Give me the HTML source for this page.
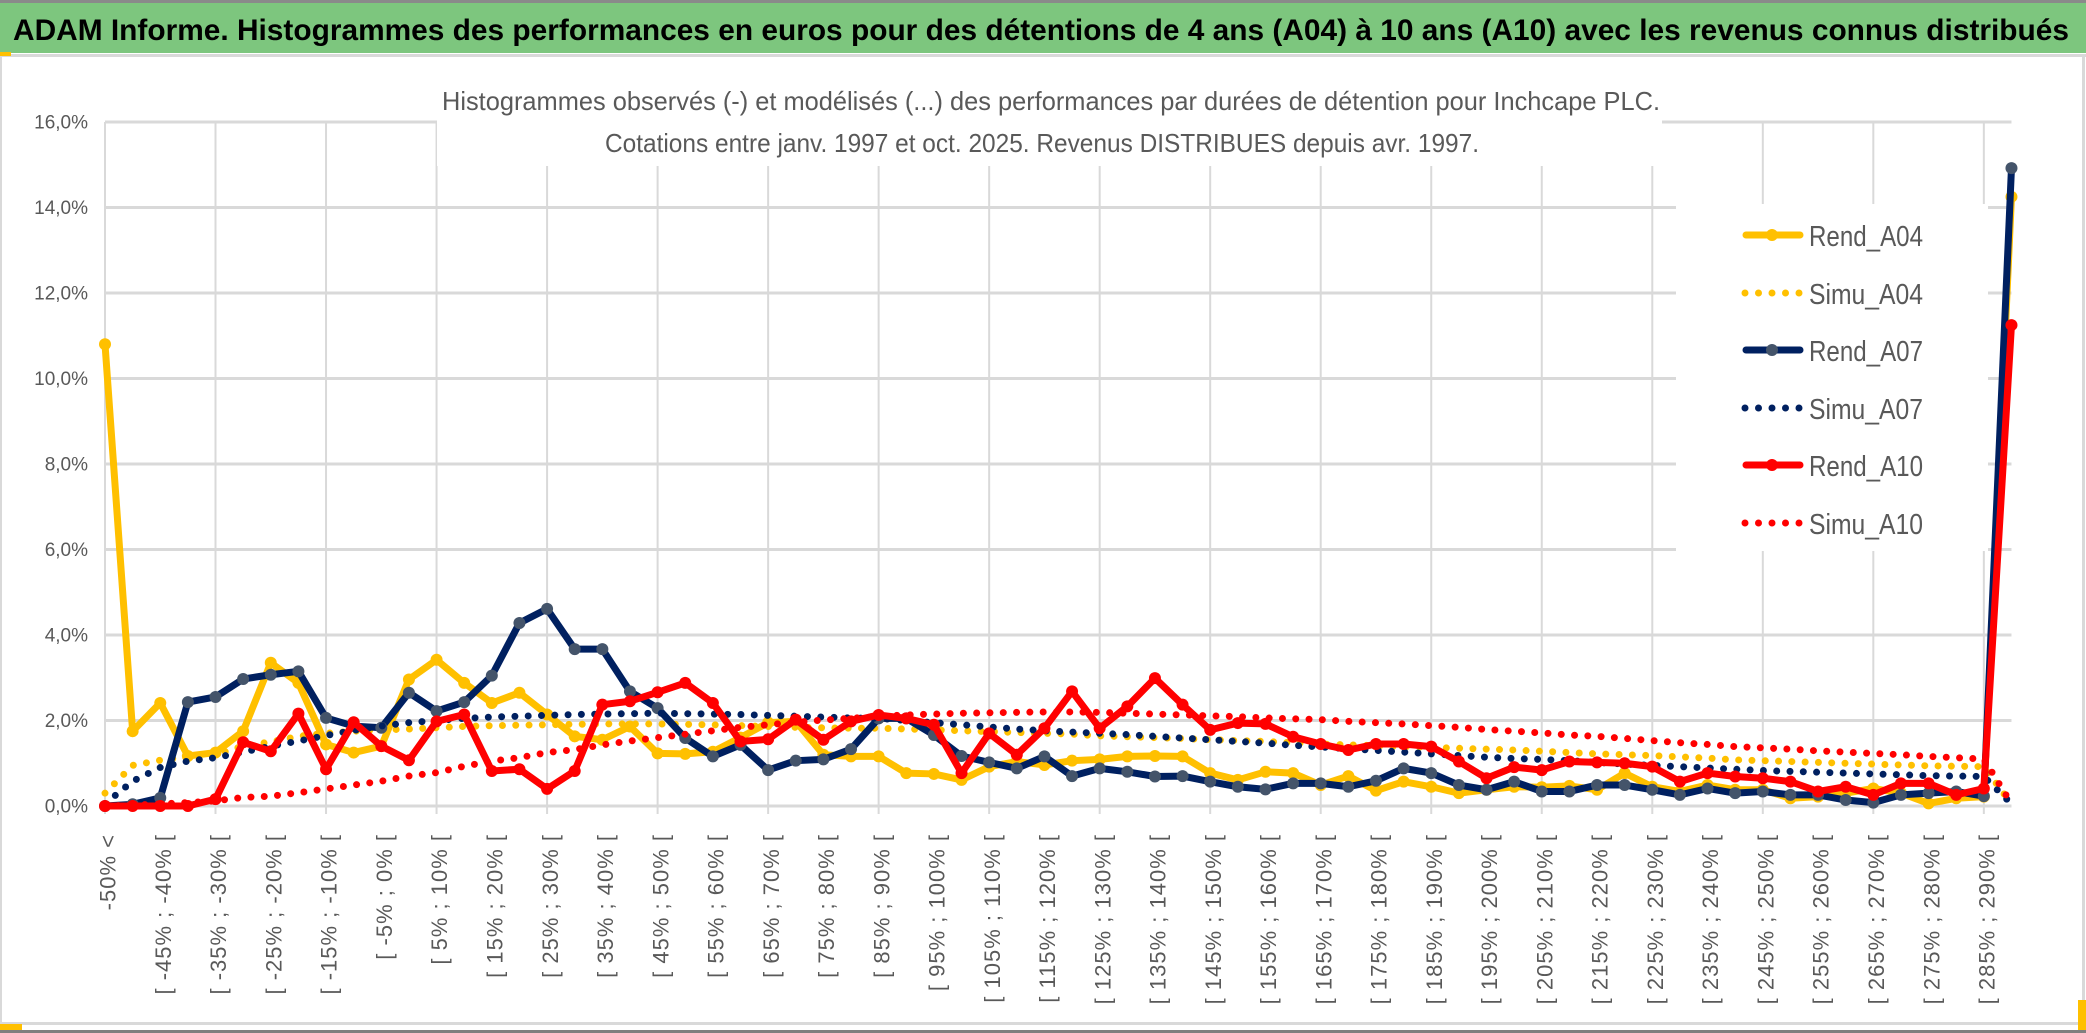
<!DOCTYPE html>
<html><head><meta charset="utf-8"><style>
html,body{margin:0;padding:0;background:#fff;}
svg{display:block;font-family:"Liberation Sans",sans-serif;}
</style></head><body>
<svg id="chart" width="2086" height="1033" viewBox="0 0 2086 1033" xmlns="http://www.w3.org/2000/svg">
<rect x="0" y="0" width="2086" height="1033" fill="#fff"/>
<rect x="0" y="0" width="2086" height="3" fill="#8a8a8a"/>
<rect x="0" y="3" width="2086" height="50" fill="#7dc67e"/>
<text x="13" y="40" font-size="30" font-weight="bold" fill="#000" textLength="2056" lengthAdjust="spacingAndGlyphs">ADAM Informe. Histogrammes des performances en euros pour des détentions de 4 ans (A04) à 10 ans (A10) avec les revenus connus distribués</text>
<rect x="0" y="54" width="2086" height="3" fill="#d9d9d9"/>
<rect x="0" y="52" width="11" height="4" fill="#ffc000"/>
<rect x="0" y="57" width="2" height="970" fill="#d9d9d9"/>
<rect x="2082" y="57" width="3" height="970" fill="#d9d9d9"/>
<rect x="0" y="1022" width="2086" height="3" fill="#d9d9d9"/>
<rect x="0" y="1030" width="2086" height="3" fill="#7f7f7f"/>
<rect x="0" y="1024" width="22" height="6" fill="#ffc000"/>
<rect x="2078" y="1000" width="8" height="30" fill="#ffc000"/>
<g id="grid"></g>
<rect x="437" y="118" width="1225" height="48" fill="#fff"/>
<text x="1051" y="110" font-size="26" fill="#595959" text-anchor="middle" textLength="1218" lengthAdjust="spacingAndGlyphs">Histogrammes observés (-) et modélisés (...) des performances par durées de détention pour Inchcape PLC.</text>
<text x="1042" y="152" font-size="26" fill="#595959" text-anchor="middle" textLength="874" lengthAdjust="spacingAndGlyphs">Cotations entre janv. 1997 et oct. 2025. Revenus DISTRIBUES depuis avr. 1997.</text>
<rect x="1676" y="204" width="312" height="347" fill="#fff"/>
<g id="yaxis"></g>
<g id="xaxis"></g>
<g id="series"></g>
<g id="legend"></g>
</svg>
<script>
const categories = ["-50% <","[ -50% ; -45% [","[ -45% ; -40% [","[ -40% ; -35% [","[ -35% ; -30% [","[ -30% ; -25% [","[ -25% ; -20% [","[ -20% ; -15% [","[ -15% ; -10% [","[ -10% ; -5% [","[ -5% ; 0% [","[ 0% ; 5% [","[ 5% ; 10% [","[ 10% ; 15% [","[ 15% ; 20% [","[ 20% ; 25% [","[ 25% ; 30% [","[ 30% ; 35% [","[ 35% ; 40% [","[ 40% ; 45% [","[ 45% ; 50% [","[ 50% ; 55% [","[ 55% ; 60% [","[ 60% ; 65% [","[ 65% ; 70% [","[ 70% ; 75% [","[ 75% ; 80% [","[ 80% ; 85% [","[ 85% ; 90% [","[ 90% ; 95% [","[ 95% ; 100% [","[ 100% ; 105% [","[ 105% ; 110% [","[ 110% ; 115% [","[ 115% ; 120% [","[ 120% ; 125% [","[ 125% ; 130% [","[ 130% ; 135% [","[ 135% ; 140% [","[ 140% ; 145% [","[ 145% ; 150% [","[ 150% ; 155% [","[ 155% ; 160% [","[ 160% ; 165% [","[ 165% ; 170% [","[ 170% ; 175% [","[ 175% ; 180% [","[ 180% ; 185% [","[ 185% ; 190% [","[ 190% ; 195% [","[ 195% ; 200% [","[ 200% ; 205% [","[ 205% ; 210% [","[ 210% ; 215% [","[ 215% ; 220% [","[ 220% ; 225% [","[ 225% ; 230% [","[ 230% ; 235% [","[ 235% ; 240% [","[ 240% ; 245% [","[ 245% ; 250% [","[ 250% ; 255% [","[ 255% ; 260% [","[ 260% ; 265% [","[ 265% ; 270% [","[ 270% ; 275% [","[ 275% ; 280% [","[ 280% ; 285% [","[ 285% ; 290% [","[ 290% ; 295% ["];
const yTicks = [0,2,4,6,8,10,12,14,16];
const yTickLabels = ["0,0%","2,0%","4,0%","6,0%","8,0%","10,0%","12,0%","14,0%","16,0%"];
const rendA04 = [10.8,1.75,2.41,1.17,1.25,1.75,3.35,2.88,1.44,1.25,1.4,2.96,3.42,2.88,2.41,2.65,2.14,1.63,1.55,1.86,1.23,1.22,1.27,1.6,1.95,1.98,1.2,1.16,1.16,0.77,0.75,0.61,0.92,1.04,0.96,1.06,1.09,1.16,1.17,1.16,0.77,0.61,0.8,0.77,0.49,0.7,0.36,0.57,0.45,0.3,0.38,0.45,0.44,0.47,0.38,0.77,0.45,0.34,0.49,0.38,0.38,0.18,0.22,0.3,0.41,0.3,0.06,0.18,0.22,14.25];
const simuA04 = [0.3,0.95,1.07,1.15,1.2,1.4,1.5,1.63,1.7,1.75,1.78,1.8,1.83,1.86,1.88,1.89,1.9,1.91,1.92,1.92,1.92,1.91,1.9,1.88,1.86,1.84,1.83,1.82,1.82,1.8,1.78,1.76,1.74,1.72,1.7,1.68,1.64,1.62,1.6,1.58,1.55,1.53,1.51,1.48,1.45,1.43,1.41,1.39,1.37,1.35,1.33,1.31,1.28,1.25,1.22,1.2,1.18,1.15,1.12,1.08,1.06,1.04,1.02,1.0,0.98,0.96,0.94,0.93,0.92,0.05];
const rendA07 = [0,0.04,0.19,2.43,2.55,2.97,3.07,3.15,2.06,1.87,1.83,2.65,2.22,2.43,3.05,4.28,4.61,3.67,3.67,2.68,2.29,1.59,1.16,1.43,0.84,1.06,1.09,1.33,2.05,2.05,1.66,1.17,1.02,0.88,1.16,0.7,0.88,0.8,0.69,0.7,0.57,0.45,0.39,0.53,0.53,0.45,0.59,0.88,0.77,0.49,0.38,0.57,0.34,0.34,0.49,0.49,0.38,0.26,0.41,0.3,0.34,0.26,0.26,0.14,0.08,0.26,0.3,0.34,0.23,14.92];
const simuA07 = [0.05,0.58,0.9,1.05,1.13,1.26,1.4,1.52,1.65,1.77,1.87,1.95,2.0,2.05,2.08,2.1,2.12,2.14,2.15,2.16,2.17,2.16,2.15,2.14,2.12,2.1,2.08,2.06,2.05,2.0,1.95,1.9,1.85,1.8,1.76,1.73,1.7,1.67,1.63,1.59,1.55,1.51,1.47,1.42,1.38,1.34,1.3,1.26,1.22,1.18,1.14,1.11,1.09,1.06,1.02,0.98,0.95,0.92,0.89,0.86,0.83,0.81,0.79,0.77,0.75,0.73,0.71,0.7,0.69,0.05];
const rendA10 = [0,0,0,0,0.16,1.49,1.28,2.16,0.86,1.96,1.4,1.07,1.98,2.14,0.82,0.86,0.4,0.82,2.37,2.45,2.66,2.88,2.41,1.51,1.56,2.02,1.55,1.98,2.13,2.05,1.9,0.77,1.7,1.2,1.82,2.68,1.82,2.33,2.99,2.37,1.78,1.94,1.92,1.62,1.45,1.31,1.45,1.45,1.39,1.04,0.65,0.91,0.84,1.04,1.02,1.0,0.92,0.57,0.77,0.69,0.65,0.57,0.34,0.45,0.26,0.53,0.53,0.26,0.41,11.25];
const simuA10 = [0.0,0.02,0.05,0.08,0.12,0.2,0.23,0.31,0.4,0.49,0.58,0.7,0.78,0.93,1.05,1.13,1.25,1.32,1.43,1.52,1.6,1.68,1.76,1.84,1.9,1.96,2.01,2.05,2.1,2.13,2.15,2.17,2.18,2.19,2.2,2.2,2.19,2.17,2.15,2.13,2.11,2.09,2.06,2.04,2.02,1.98,1.95,1.92,1.88,1.84,1.79,1.75,1.71,1.66,1.63,1.58,1.53,1.48,1.44,1.39,1.36,1.33,1.29,1.26,1.23,1.2,1.16,1.13,1.1,0.05];
const seriesNames = ["Rend_A04","Simu_A04","Rend_A07","Simu_A07","Rend_A10","Simu_A10"];

const NS = "http://www.w3.org/2000/svg";
const X0 = 105, XSTEP = 27.63, Y0 = 806, YPER = 42.75;
function xScale(i){ return X0 + i * XSTEP; }
function yScale(v){ return Y0 - v * YPER; }
function mk(tag, attrs, parent){ const e = document.createElementNS(NS, tag); for (const k in attrs) e.setAttribute(k, attrs[k]); parent.appendChild(e); return e; }

const grid = document.getElementById('grid');
const xEnd = xScale(categories.length - 1);
yTicks.forEach(function(t){
  const l = mk('line', {x1: X0, x2: xEnd, y1: yScale(t), y2: yScale(t), stroke: '#d9d9d9', 'stroke-width': 3}, grid);
  
  
});
for (let i = 0; i < categories.length; i += 4) {
  const l = mk('line', {x1: xScale(i), x2: xScale(i), y1: yScale(16), y2: Y0 + 8, stroke: '#d9d9d9', 'stroke-width': 2}, grid);
  
  
}

const yaxis = document.getElementById('yaxis');
yTicks.forEach(function(t, k){
  const tx = mk('text', {x: 88, y: yScale(t), dy: '0.35em', 'text-anchor': 'end', 'font-size': 19, fill: '#595959'}, yaxis);
  tx.textContent = yTickLabels[k];
  
  
});

const xaxis = document.getElementById('xaxis');
for (let i = 0; i < categories.length; i += 2) {
  const x = xScale(i) + 3, y = 834;
  const tx = mk('text', {x: x, y: y, dy: '0.35em', 'text-anchor': 'end', 'font-size': 22, 'letter-spacing': 1, fill: '#595959', transform: 'rotate(-90 ' + x + ' ' + y + ')'}, xaxis);
  tx.textContent = categories[i];
  
  
}

const seriesG = document.getElementById('series');
function pts(arr){ return arr.map(function(v, i){ return xScale(i) + ',' + yScale(v); }).join(' '); }
function drawRend(arr, color, marker, name){
  const g = mk('g', {}, seriesG);
  
  
  const pl = mk('polyline', {points: pts(arr), fill: 'none', stroke: color, 'stroke-width': 7, 'stroke-linejoin': 'round', 'stroke-linecap': 'round'}, g);
  
  
  arr.forEach(function(v, i){
    const c = mk('circle', {cx: xScale(i), cy: yScale(v), r: 6, fill: marker}, g);
    
    
  });
}
function drawSimu(arr, color, name){
  const pl = mk('polyline', {points: pts(arr), fill: 'none', stroke: color, 'stroke-width': 7, 'stroke-linecap': 'round', 'stroke-dasharray': '0 13.3'}, seriesG);
  
  
}
drawRend(rendA04, '#ffc000', '#ffc000', 'rend-a04-series');
drawSimu(simuA04, '#ffc000', 'simu-a04-series');
drawRend(rendA07, '#002060', '#44546a', 'rend-a07-series');
drawSimu(simuA07, '#002060', 'simu-a07-series');
drawRend(rendA10, '#ff0000', '#ff0000', 'rend-a10-series');
drawSimu(simuA10, '#ff0000', 'simu-a10-series');

const legend = document.getElementById('legend');
const legColors = ['#ffc000','#ffc000','#002060','#002060','#ff0000','#ff0000'];
const legMarkers = ['#ffc000',null,'#44546a',null,'#ff0000',null];
const legY = [235,293,350,408,465,523];
seriesNames.forEach(function(n, k){
  const y = legY[k];
  const g = mk('g', {}, legend);
  
  
  if (legMarkers[k]) {
    mk('line', {x1: 1746, x2: 1800, y1: y, y2: y, stroke: legColors[k], 'stroke-width': 7, 'stroke-linecap': 'round'}, g);
    mk('circle', {cx: 1772, cy: y, r: 6, fill: legMarkers[k]}, g);
  } else {
    mk('line', {x1: 1745, x2: 1800, y1: y, y2: y, stroke: legColors[k], 'stroke-width': 7, 'stroke-linecap': 'round', 'stroke-dasharray': '0 13.5'}, g);
  }
  const tx = mk('text', {x: 1809, y: y + 11, 'font-size': 29, fill: '#595959', textLength: 114, lengthAdjust: 'spacingAndGlyphs'}, g);
  tx.textContent = n;
});
</script>
</body></html>
